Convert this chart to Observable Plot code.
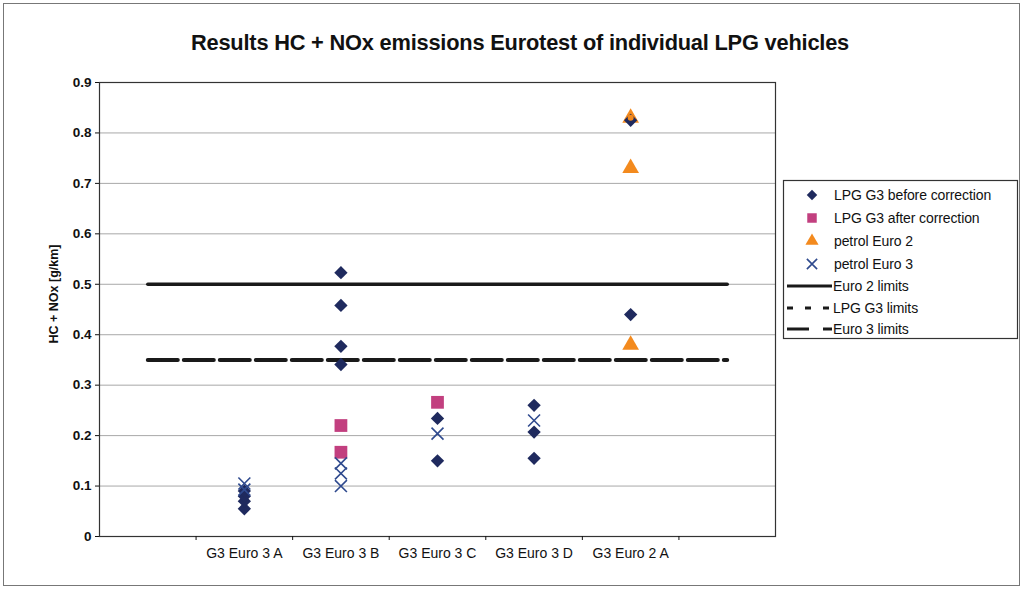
<!DOCTYPE html>
<html><head><meta charset="utf-8">
<script src="https://cdn.jsdelivr.net/npm/d3@7"></script>
<script src="https://cdn.jsdelivr.net/npm/@observablehq/plot@0.6"></script>
<style>
body{margin:0;background:#fff;font-family:"Liberation Sans",Arial,sans-serif;color:#111;}
#wrap{position:relative;width:1022px;height:590px;overflow:hidden;background:#fff;}
#border{position:absolute;left:3px;top:3px;width:1015px;height:581px;border:1px solid #777;}
#title{position:absolute;left:0;width:1040px;top:30px;text-align:center;font-weight:bold;font-size:21.8px;letter-spacing:-0.2px;}
#ylabel{position:absolute;left:54px;top:294px;transform:translate(-50%,-50%) rotate(-90deg);font-weight:bold;font-size:12.5px;white-space:nowrap;}
#chart{position:absolute;left:0;top:0;}
#legend{position:absolute;left:0;top:0;}
</style></head><body>
<div id="wrap">
  <div id="border"></div>
  <div id="chart"></div>
  <div id="title">Results HC + NOx emissions Eurotest of individual LPG vehicles</div>
  <div id="ylabel">HC + NOx [g/km]</div>
  <svg id="legend" width="1022" height="590"></svg>
</div>
<script>
// Categories (with blank slots at both ends as in the original Excel chart)
const categories = ["G3 Euro 3 A", "G3 Euro 3 B", "G3 Euro 3 C", "G3 Euro 3 D", "G3 Euro 2 A"];
const yTicks = [0, 0.1, 0.2, 0.3, 0.4, 0.5, 0.6, 0.7, 0.8, 0.9];

// Series values per category (g/km)
const lpgBefore   = [[0.055, 0.07, 0.08, 0.09], [0.523, 0.458, 0.377, 0.341], [0.234, 0.15], [0.26, 0.207, 0.155], [0.825, 0.44]];
const lpgAfter    = [[], [0.22, 0.167], [0.266], [], []];
const petrolEuro2 = [[], [], [], [], [0.83, 0.73, 0.38]];
const petrolEuro3 = [[0.105, 0.093], [0.145, 0.125, 0.10], [0.204], [0.23], []];

// Limits
const euro2Limit = 0.5;
const lpgG3Limit = 0.35;
const euro3Limit = 0.35;

const seriesNames = ["LPG G3 before correction", "LPG G3 after correction", "petrol Euro 2", "petrol Euro 3", "Euro 2 limits", "LPG G3 limits", "Euro 3 limits"];

const nSlots = categories.length + 2; // blank slot before and after
const slotCenter = i => i + 0.5;     // slot index -> x position

function rows(series) {
  const out = [];
  series.forEach((vals, ci) => vals.forEach(v => out.push({x: slotCenter(ci + 1), y: v})));
  return out;
}
function limitRows(v) {
  return d3.range(nSlots).map(i => ({x: slotCenter(i), y: v}));
}

const colors = {before: "#1f2a5e", after: "#c23f7f", e2: "#f38a1e", e3: "#2f4a8e"};

const chart = Plot.plot({
  width: 1022, height: 590,
  marginLeft: 99, marginRight: 247, marginTop: 82, marginBottom: 54,
  x: {type: "linear", domain: [0, nSlots]},
  y: {domain: [0, 0.9]},
  style: {fontFamily: '"Liberation Sans", Arial, sans-serif', fontSize: "12px", color: "#111", background: "transparent", overflow: "visible"},
  marks: [
    Plot.gridY(yTicks, {stroke: "#a8a8a8", strokeOpacity: 1, strokeWidth: 1}),
    Plot.frame({stroke: "#333", strokeWidth: 1.2}),
    Plot.axisY(yTicks, {tickSize: 4, tickPadding: 4, tickFormat: d => String(d), label: null, fontSize: 13.5, fontWeight: "bold"}),
    Plot.axisX(d3.range(1, nSlots), {tickSize: 4, tickFormat: () => "", label: null}),
    Plot.axisX(categories.map((c, i) => slotCenter(i + 1)), {tickSize: 0, tickPadding: 12, tickFormat: (d, i) => categories[i], label: null, fontSize: 14, letterSpacing: "-0.4px"}),
    Plot.line(limitRows(euro2Limit), {x: "x", y: "y", stroke: "#1a1a1a", strokeWidth: 3.5}),
    Plot.line(limitRows(euro3Limit), {x: "x", y: "y", stroke: "#1a1a1a", strokeWidth: 4, strokeDasharray: "24,12"}),
    Plot.line(limitRows(lpgG3Limit), {x: "x", y: "y", stroke: "#1a1a1a", strokeWidth: 4, strokeDasharray: "6,12", strokeDashoffset: -6}),
    Plot.dot(rows(petrolEuro2), {x: "x", y: "y", symbol: "triangle", r: 6.2, fill: colors.e2, stroke: "none"}),
    Plot.dot(rows(lpgBefore), {x: "x", y: "y", symbol: "diamond2", r: 6, fill: colors.before, stroke: "none"}),
    Plot.dot(rows(lpgAfter), {x: "x", y: "y", symbol: "square", r: 7.2, fill: colors.after, stroke: "none"}),
    Plot.dot(rows(petrolEuro2).filter(d => d.y > 0.8), {x: "x", y: "y", symbol: "circle", r: 3, fill: colors.e2, stroke: "none"}),
    Plot.dot(rows(petrolEuro3), {x: "x", y: "y", symbol: "times", r: 5.5, stroke: colors.e3, strokeWidth: 1.6, fill: "none"})
  ]
});
document.getElementById("chart").appendChild(chart);

// Legend
const lg = d3.select("#legend");
lg.append("rect").attr("x", 783.5).attr("y", 180.5).attr("width", 234).attr("height", 158)
  .attr("fill", "#fff").attr("stroke", "#333").attr("stroke-width", 1.2);
const rowY = [195, 218, 241, 264, 286, 308, 329];
const symX = 812, textX = 834;
const legendItems = [
  {type: "sym", sym: d3.symbolDiamond2, size: 70, fill: colors.before},
  {type: "sym", sym: d3.symbolSquare, size: 90, fill: colors.after},
  {type: "sym", sym: d3.symbolTriangle, size: 75, fill: colors.e2},
  {type: "sym", sym: d3.symbolTimes, size: 70, stroke: colors.e3},
  {type: "line", dash: null},
  {type: "line", dash: "6,12"},
  {type: "line", dash: "22,14"}
];
legendItems.forEach((it, i) => {
  const y = rowY[i];
  if (it.type === "sym") {
    lg.append("path").attr("transform", `translate(${symX},${y})`)
      .attr("d", d3.symbol(it.sym, it.size)())
      .attr("fill", it.fill || "none").attr("stroke", it.stroke || "none").attr("stroke-width", 1.6);
  } else {
    lg.append("line").attr("x1", 787).attr("x2", 832).attr("y1", y).attr("y2", y)
      .attr("stroke", "#1a1a1a").attr("stroke-width", 3)
      .attr("stroke-dasharray", it.dash);
  }
  lg.append("text").attr("x", it.type === "sym" ? textX : 833).attr("y", y).attr("dy", "0.35em")
    .attr("font-size", 14).attr("letter-spacing", "-0.1px").attr("fill", "#111")
    .attr("font-family", '"Liberation Sans", Arial, sans-serif')
    .text(seriesNames[i]);
});
</script>
</body></html>
